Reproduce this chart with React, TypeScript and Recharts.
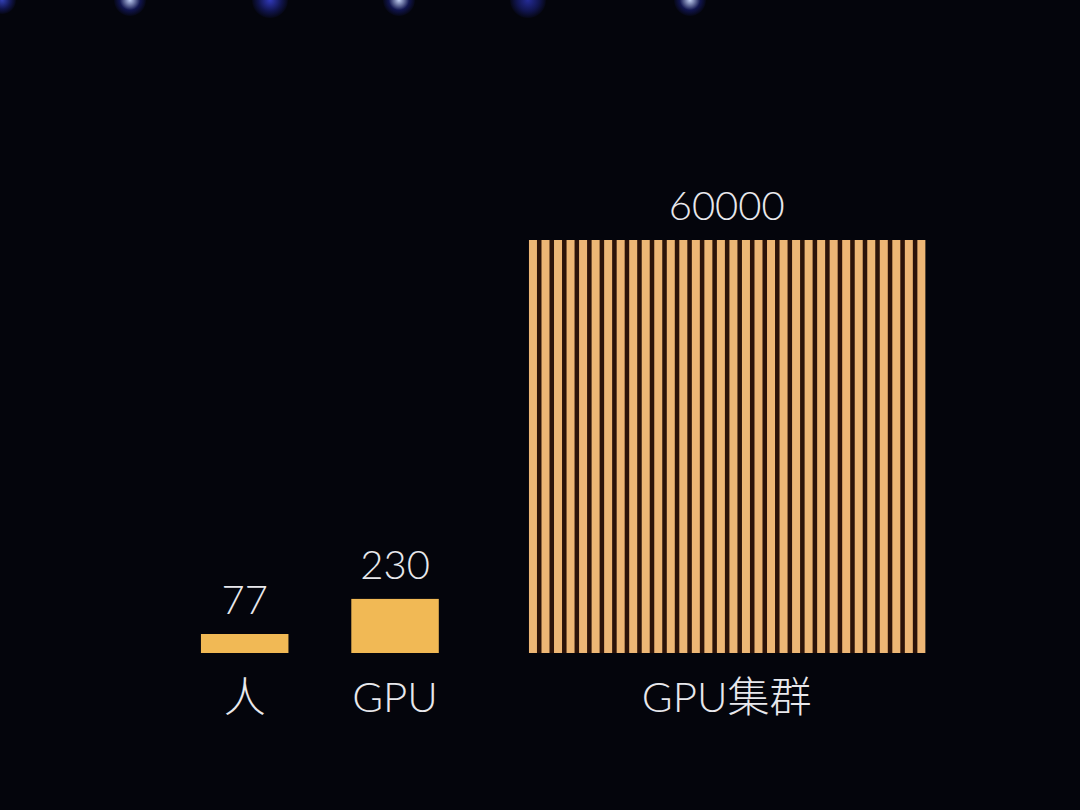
import React from 'react';
import { Bar, BarChart, XAxis, YAxis } from 'recharts';

const categories = ['人', 'GPU', 'GPU集群'];
const values = [77, 230, 60000];
// drawn height (cluster = 100), the slide is not to scale
const drawnHeights = [4.6, 13.1, 100];
// the cluster bar is drawn as a row of thin stripes
const stripeCounts = [0, 0, 32];

// layout: every bar sits on a grid of stripe-pitch slots
const SLOT_FROM = -41;
const SLOT_COUNT = 85;
const groupStart = [-26, -14, 0];
const groupSpan = [7, 7, 32];
const GAP = 0.18;

const BG = '#04050c';
const SOLID = '#f1b955';
const STRIPE = '#edb675';
const TEXT = '#e8e8ec';
const FONT = "Lato, 'Noto Sans CJK SC', sans-serif";

const rows = Array.from({ length: SLOT_COUNT }, (_, i) => {
  const slot = SLOT_FROM + i;
  const group = groupStart.findIndex((s, k) => slot >= s && slot < s + groupSpan[k]);
  return {
    slot: String(slot),
    group,
    height: group < 0 ? 0 : drawnHeights[group],
    first: group >= 0 && slot === groupStart[group],
    striped: group >= 0 && stripeCounts[group] > 0,
  };
});

function BarShape(props: any) {
  const { x, y, width, height, payload } = props;
  if (!payload || payload.group < 0 || !height) return <g />;
  const slot = width / (1 - 2 * GAP);
  const pad = (slot - width) / 2;
  const span = groupSpan[payload.group];
  const cx = x - pad + (span * slot) / 2;

  const labels = payload.first ? (
    <g fontFamily={FONT} fontWeight={300} fill={TEXT} textAnchor="middle">
      <text x={cx} y={y - 20} fontSize={40}>{values[payload.group]}</text>
      <text x={cx} y={y + height + 59} fontSize={42}>{categories[payload.group]}</text>
    </g>
  ) : null;

  if (payload.striped) {
    return (
      <g>
        {payload.first && (
          <rect x={x} y={y} width={span * slot - 2 * pad} height={height} fill="#2c1309" />
        )}
        <rect x={x} y={y} width={width} height={height} fill={STRIPE} />
        {labels}
      </g>
    );
  }
  if (!payload.first) return <g />;
  return (
    <g>
      <rect x={x - pad} y={y} width={span * slot} height={height} fill={SOLID} />
      {labels}
    </g>
  );
}

const lights = [
  { x: 2, size: 14, color: 'rgba(70,90,255,0.7)' },
  { x: 130, size: 16, color: 'rgba(200,215,255,0.95)' },
  { x: 270, size: 18, color: 'rgba(60,70,230,0.8)' },
  { x: 399, size: 16, color: 'rgba(205,220,255,0.95)' },
  { x: 528, size: 18, color: 'rgba(50,60,210,0.7)' },
  { x: 690, size: 16, color: 'rgba(205,220,255,0.95)' },
];

export default function App() {
  return (
    <div style={{ position: 'absolute', left: 0, top: 0, width: 1080, height: 810, background: BG, overflow: 'hidden' }}>
      {lights.map((l, i) => (
        <div
          key={i}
          style={{
            position: 'absolute',
            left: l.x - l.size,
            top: -l.size,
            width: l.size * 2,
            height: l.size * 2,
            borderRadius: '50%',
            background: `radial-gradient(circle, ${l.color} 0%, rgba(40,50,200,0.35) 45%, rgba(0,0,0,0) 75%)`,
          }}
        />
      ))}
      <BarChart
        width={1080}
        height={810}
        data={rows}
        margin={{ top: 240, right: 2, bottom: 157, left: 13 }}
        barCategoryGap={`${GAP * 100}%`}
      >
        <XAxis dataKey="slot" type="category" hide />
        <YAxis type="number" domain={[0, 100]} hide />
        <Bar dataKey="height" shape={BarShape} isAnimationActive={false} />
      </BarChart>
    </div>
  );
}
